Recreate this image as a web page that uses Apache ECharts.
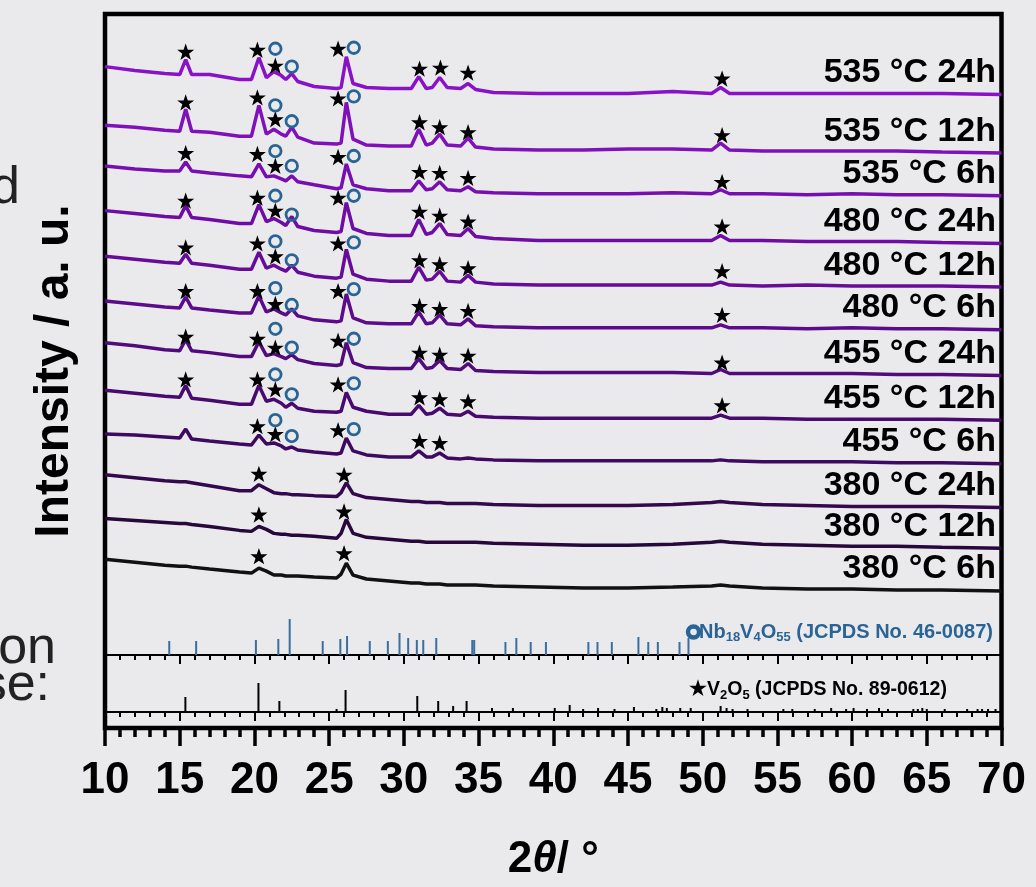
<!DOCTYPE html>
<html><head><meta charset="utf-8">
<script src="https://cdn.jsdelivr.net/npm/echarts@6/dist/echarts.min.js"></script>
<style>html,body{margin:0;padding:0;background:#eaeaec;}#c{width:1036px;height:887px;}</style>
</head><body><div id="c"></div>
<script>
// ---- data ----
const twoTheta = [10,12,14,15.0,15.4,15.8,17,19,19.8,20.3,20.8,21.3,21.8,22.1,22.5,22.9,24,25.5,25.8,26.15,26.6,27.5,29,30.5,31.0,31.5,31.9,32.4,32.9,33.8,34.3,34.8,36,39,42,45,48,50.6,51.2,51.8,54,57,60,63,66,70];
const sampleNames = ['535 °C 24h','535 °C 12h','535 °C 6h','480 °C 24h','480 °C 12h','480 °C 6h','455 °C 24h','455 °C 12h','455 °C 6h','380 °C 24h','380 °C 12h','380 °C 6h'];
const offsets = [638,579,536,488,444,401,355,310,266,222,181,138];
const i535_24 = [28,24,21,20,35,20,20,15,15,37,17,23,19,15,21,13,8,6,7,38,11,7,6,6,18,6,7,17,7,6,11,5,2,1,1,1,3,1,7,1,1,1,1,1,1,0];
const i535_12 = [28,26,23,22,44,22,21,17,17,48,19,24,19,17,26,16,10,9,10,51,14,8,7,7,24,8,10,19,8,7,15,6,4,3,3,4,4,3,10,3,2,2,2,2,1,0];
const i535_6  = [30,27,25,25,34,25,23,20,19,32,19,20,17,15,20,14,11,7,8,32,11,7,5,5,15,6,7,14,6,5,9,4,3,2,2,2,3,2,6,2,2,1,2,1,1,0];
const i480_24 = [33,30,27,26,38,26,24,20,20,39,22,25,21,18,27,17,13,11,12,41,15,10,8,8,24,9,11,20,9,8,15,7,5,3,3,3,3,3,8,3,3,2,2,2,1,0];
const i480_12 = [31,28,25,24,33,24,22,18,18,35,19,22,18,16,22,15,11,9,10,38,13,8,6,6,20,7,8,16,6,5,12,5,3,2,2,2,2,2,5,2,1,2,1,1,1,0];
const i480_6  = [29,26,23,22,33,22,20,17,17,34,18,21,17,15,21,14,10,8,9,36,12,7,6,6,18,6,7,15,6,5,11,4,3,2,2,2,2,2,5,2,2,1,2,1,1,0];
const i455_24 = [33,30,26,25,36,25,23,19,19,34,20,22,19,17,21,16,12,10,11,33,13,8,7,7,17,7,8,15,7,6,12,5,4,3,3,3,3,2,6,2,2,2,2,1,1,0];
const i455_12 = [30,27,24,23,35,22,20,16,16,35,19,21,17,13,17,12,9,8,9,28,13,9,6,6,15,6,7,12,6,5,9,4,3,2,2,2,2,2,5,2,2,1,1,1,1,0];
const i455_6  = [30,29,27,26,35,25,23,20,19,29,20,21,18,15,17,14,12,10,11,26,13,9,7,7,13,7,7,11,6,5,6,5,4,3,3,3,3,3,4,3,2,2,2,1,1,0];
const i380_24 = [33,30,27,26,26,25,22,17,17,23,19,15,14,14,13,13,12,11,15,25,14,10,8,6,6,5,5,5,4,4,4,4,3,2,2,2,3,5,6,5,3,2,1,1,1,0];
const i380_12 = [30,28,26,25,25,24,22,18,17,22,19,15,14,14,13,13,12,10,15,29,15,11,9,7,7,6,6,6,6,6,6,6,5,4,3,3,4,6,7,6,4,3,2,2,1,0];
const i380_6  = [32,29,26,25,25,24,22,19,18,23,20,16,16,15,15,15,14,13,17,28,16,12,10,8,8,7,7,7,6,6,6,6,5,4,3,3,4,5,6,5,3,2,2,1,1,0];
const starMarks = [
 [15.4,681],[20.2,683],[21.4,667],[25.6,684],[31.05,664],[32.45,665],[34.3,660],[51.3,654],
 [15.4,630],[20.2,635],[21.4,613],[25.6,634],[31.05,610],[32.4,605],[34.3,600],[51.3,597],
 [15.4,579],[20.2,578],[21.4,566],[25.6,575],[31.05,560],[32.4,559],[34.3,554],[51.3,550],
 [15.4,531],[20.2,534],[21.4,521],[25.6,534],[31.05,520],[32.4,516],[34.3,510],[51.3,505],
 [15.4,484],[20.2,488],[21.4,475],[25.6,488],[31.05,471],[32.4,467],[34.3,463],[51.3,460],
 [15.4,440],[20.2,440],[21.4,427],[25.6,440],[31.05,425],[32.4,422],[34.3,420],[51.3,416],
 [15.4,394],[20.2,392],[21.4,383],[25.6,390],[31.05,378],[32.4,376],[34.3,375],[51.3,368],
 [15.4,351],[20.2,351],[21.4,341],[25.6,346],[31.05,333],[32.4,331],[34.3,329],[51.3,325],
 [20.2,304],[21.4,296],[25.6,300],[31.05,289],[32.4,287],
 [20.3,256],[26.0,255],
 [20.3,215],[26.0,218],
 [20.3,173],[26.0,176]
];
const circleMarks = [
 [21.4,684],[22.5,666],[26.65,685],
 [21.4,627],[22.5,611],[26.65,636],
 [21.4,581],[22.5,566],[26.65,576],
 [21.4,536],[22.5,517],[26.65,536],
 [21.4,490],[22.5,471],[26.65,489],
 [21.4,443],[22.5,426],[26.65,442],
 [21.4,402],[22.5,383],[26.65,392],
 [21.4,356],[22.5,336],[26.65,347],
 [21.4,310],[22.5,294],[26.65,301]
];
const nbPos = [14.3,16.1,20.1,21.6,22.36,24.57,25.75,26.2,27.72,28.93,29.71,30.29,30.87,31.30,32.17,34.58,34.71,36.8,37.53,38.49,39.51,42.35,42.96,43.92,45.70,46.36,47.00,48.45,49.05];
const nbInt = [14,14,15,16,36,14,16,19,14,14,22,17,15,15,17,15,15,13,17,13,13,13,13,13,18,13,13,13,17];
const v2o5Pos = [15.38,20.27,21.67,25.5,26.1,30.9,32.3,33.3,34.2,35.9,37.3,40.1,41.1,42.0,43.0,44.1,45.4,46.9,47.3,47.6,48.5,49.2,51.2,51.6,52.0,53.0,55.4,56.0,57.5,58.6,59.6,60.1,61.0,61.8,62.4,64.1,64.4,64.7,65.0,66.2,67.7,68.4,68.7,69.1,69.6];
const v2o5Int = [15,29,11,3,22,16,11,6,11,4,4,4,7,3,4,3,5,3,5,4,4,4,6,4,3,3,3,3,3,4,3,4,3,4,3,3,3,4,3,3,3,3,3,3,3];
const xTicks = {min:10, max:70, interval:5};

// ---- styling ----
const FONT = "'Liberation Sans', Arial, Helvetica, sans-serif";
const BLUE = '#2a6496';
const traceColors = ['#8a12c6','#7f10ba','#770eb0','#6e0ca4','#660c98','#5c0b8a','#520b7c','#480a6e','#3e0960','#33084f','#28073d','#111111'];
const profiles = [i535_24,i535_12,i535_6,i480_24,i480_12,i480_6,i455_24,i455_12,i455_6,i380_24,i380_12,i380_6];
const STAR = 'path://M50,2 L62,37 L98,37 L69,59 L80,94 L50,73 L20,94 L31,59 L2,37 L38,37 Z';

const series = [];
profiles.forEach((p, k) => {
  series.push({
    type:'line', name:sampleNames[k], xAxisIndex:0, yAxisIndex:0,
    data: twoTheta.map((x,i)=>[x, p[i] + offsets[k]]),
    symbol:'none', lineStyle:{color:traceColors[k], width:3.5}, itemStyle:{color:traceColors[k]}, z:3
  });
});
series.push({
  type:'scatter', xAxisIndex:0, yAxisIndex:0, symbolSize:1, itemStyle:{color:'rgba(0,0,0,0)', opacity:1},
  data: sampleNames.map((n,k)=>({name:n, value:[70, offsets[k] + 22]})),
  label:{show:true, position:'left', distance:5, formatter:'{b}', fontFamily:FONT, fontSize:34, fontWeight:'bold', color:'#000', opacity:1}, z:6
});
series.push({type:'scatter', xAxisIndex:0, yAxisIndex:0, data:starMarks, symbol:STAR, symbolKeepAspect:true, symbolSize:17, itemStyle:{color:'#000', opacity:1}, z:5});
series.push({type:'scatter', xAxisIndex:0, yAxisIndex:0, data:circleMarks, symbol:'circle', symbolSize:11.5, itemStyle:{color:'rgba(0,0,0,0)', borderColor:BLUE, borderWidth:2.8, opacity:1}, z:5});
series.push({type:'bar', xAxisIndex:1, yAxisIndex:1, data:nbPos.map((x,i)=>[x, nbInt[i]]), barWidth:2, itemStyle:{color:'#3a6e9e'}});
series.push({type:'bar', xAxisIndex:2, yAxisIndex:2, data:v2o5Pos.map((x,i)=>[x, v2o5Int[i]]), barWidth:2, itemStyle:{color:'#000'}});

const innerX = (gi) => ({
  gridIndex:gi, type:'value', min:xTicks.min, max:xTicks.max, interval:xTicks.interval,
  axisLine:{lineStyle:{color:'#000', width:2}},
  axisTick:{length:9, lineStyle:{color:'#000', width:2}},
  minorTick:{show:true, splitNumber:5, length:5, lineStyle:{color:'#000', width:2}},
  axisLabel:{show:false}, splitLine:{show:false}
});

const option = {
  animation:false,
  backgroundColor:'#eaeaec',
  grid:[
    {left:105, right:34.5, top:14, bottom:153, show:true, borderColor:'#000', borderWidth:4.5, backgroundColor:'rgba(0,0,0,0)'},
    {left:105, right:34.5, top:615, height:40},
    {left:105, right:34.5, top:672, height:40}
  ],
  xAxis:[
    {gridIndex:0, type:'value', min:xTicks.min, max:xTicks.max, interval:xTicks.interval,
     axisLine:{lineStyle:{color:'#000', width:4}},
     axisTick:{length:18, lineStyle:{color:'#000', width:3.5}},
     minorTick:{show:true, splitNumber:5, length:9, lineStyle:{color:'#000', width:3.5}},
     axisLabel:{fontFamily:FONT, fontSize:44, fontWeight:'bold', color:'#000', margin:31, showMinLabel:true, showMaxLabel:true},
     splitLine:{show:false},
     name:'{a|2}{b|θ}{a|/ °}', nameLocation:'middle', nameGap:110,
     nameTextStyle:{rich:{
       a:{fontFamily:FONT, fontSize:44, fontWeight:'bold', color:'#000'},
       b:{fontFamily:FONT, fontSize:44, fontWeight:'bold', fontStyle:'italic', color:'#000'}
     }}},
    innerX(1), innerX(2)
  ],
  yAxis:[
    {gridIndex:0, type:'value', min:0, max:719, axisLine:{show:false}, axisTick:{show:false}, axisLabel:{show:false}, splitLine:{show:false},
     name:'Intensity / a. u.', nameLocation:'middle', nameRotate:90, nameGap:26,
     nameTextStyle:{fontFamily:FONT, fontSize:48, fontWeight:'bold', color:'#000'}},
    {gridIndex:1, type:'value', min:0, max:40, show:false},
    {gridIndex:2, type:'value', min:0, max:40, show:false}
  ],
  graphic:[
    {type:'text', x:20, y:189, style:{text:'d', align:'right', verticalAlign:'middle', font:"52px 'Liberation Sans', Arial, sans-serif", fill:'#222'}},
    {type:'text', x:56, y:649, style:{text:'on', align:'right', verticalAlign:'middle', font:"52px 'Liberation Sans', Arial, sans-serif", fill:'#222'}},
    {type:'text', x:50, y:686, style:{text:'se:', align:'right', verticalAlign:'middle', font:"52px 'Liberation Sans', Arial, sans-serif", fill:'#222'}},
    {type:'text', x:688, y:620, z:10, style:{
      text:'{r| }{t|Nb}{s|18}{t|V}{s|4}{t|O}{s|55}{t| (JCPDS No. 46-0087)}', align:'left', verticalAlign:'top',
      rich:{
        r:{width:11, height:11, borderColor:BLUE, borderWidth:2.2, borderRadius:6, backgroundColor:'rgba(0,0,0,0)', verticalAlign:'middle'},
        t:{fontFamily:FONT, fontSize:20, fontWeight:'bold', fill:BLUE, color:BLUE, lineHeight:24},
        s:{fontFamily:FONT, fontSize:13, fontWeight:'bold', fill:BLUE, color:BLUE, lineHeight:13, verticalAlign:'bottom'}
      }}},
    {type:'text', x:689, y:678, z:10, style:{
      text:'{t|★V}{s|2}{t|O}{s|5}{t| (JCPDS No. 89-0612)}', align:'left', verticalAlign:'top',
      rich:{
        t:{fontFamily:FONT, fontSize:19.5, fontWeight:'bold', fill:'#000', color:'#000', lineHeight:24},
        s:{fontFamily:FONT, fontSize:13, fontWeight:'bold', fill:'#000', color:'#000', lineHeight:13, verticalAlign:'bottom'}
      }}}
  ],
  series: series
};
const chart = echarts.init(document.getElementById('c'), null, {width:1036, height:887});
chart.setOption(option);
</script>
</body></html>
